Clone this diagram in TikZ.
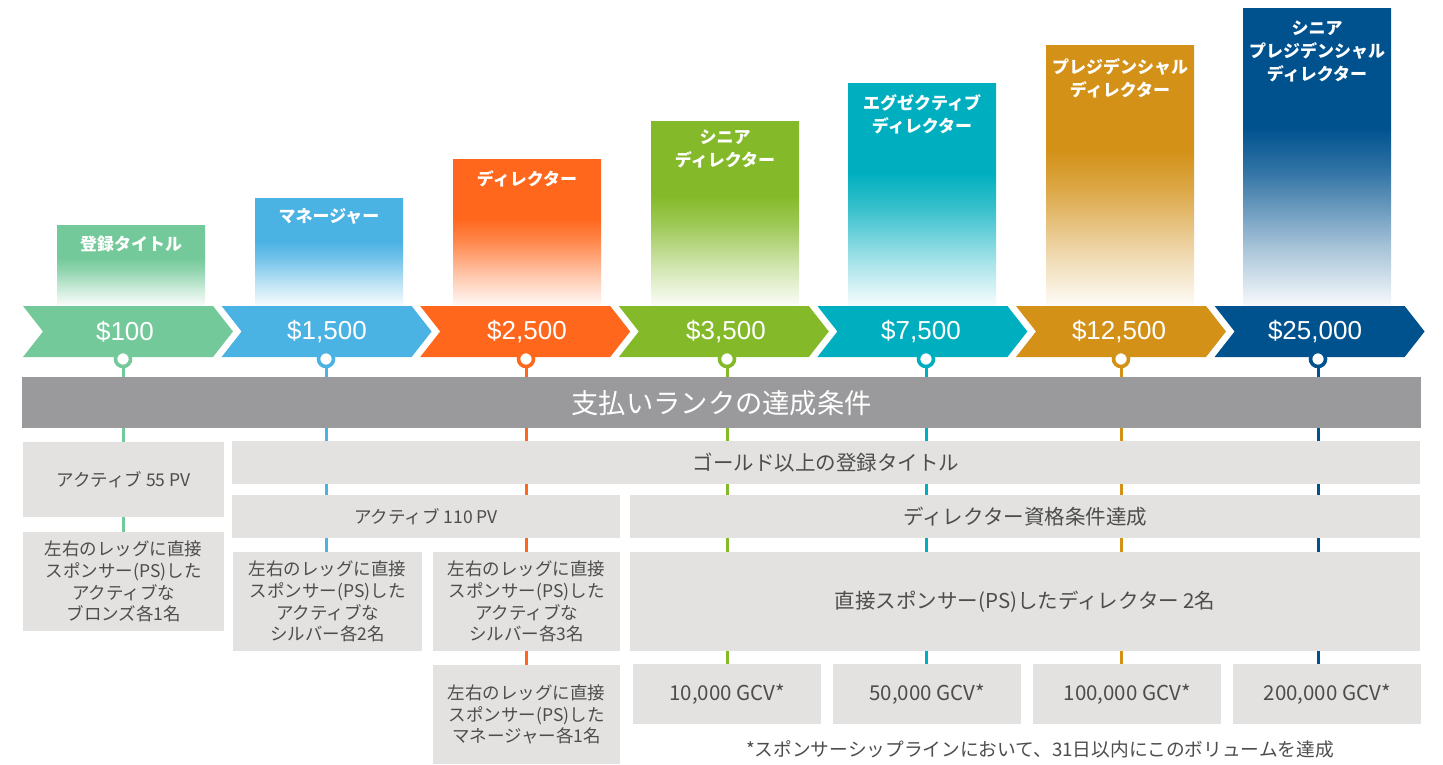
\documentclass[tikz,border=0pt]{standalone}
\usepackage{fontspec}
\newfontfamily\jp{Noto Sans CJK JP}
\newfontfamily\arl{Liberation Sans}
\definecolor{cA}{HTML}{73C999}
\definecolor{cB}{HTML}{4BB2E4}
\definecolor{cC}{HTML}{FF671C}
\definecolor{cD}{HTML}{84BA29}
\definecolor{cE}{HTML}{00AFBF}
\definecolor{cF}{HTML}{D39118}
\definecolor{cG}{HTML}{00528F}
\definecolor{bannergrey}{HTML}{9A9A9C}
\definecolor{boxgrey}{HTML}{E3E2E1}
\definecolor{boxtext}{HTML}{4D4D4D}
\newcommand{\mkbarshade}[1]{%
  \colorlet{#1a}{#1!3!white}%
  \colorlet{#1b}{#1!35!white}%
  \colorlet{#1c}{#1!80!white}%
  \pgfdeclareverticalshading{sh#1}{100bp}{color(0bp)=(#1a); color(25bp)=(#1a); color(35bp)=(#1b); color(47.5bp)=(#1c); color(55bp)=(#1); color(100bp)=(#1)}}
\mkbarshade{cA}\mkbarshade{cB}\mkbarshade{cC}\mkbarshade{cD}\mkbarshade{cE}\mkbarshade{cF}\mkbarshade{cG}
\begin{document}
\begin{tikzpicture}[x=1pt,y=-1pt,
  titletext/.style={anchor=north, text=white, align=center, inner sep=0pt,
    font=\jp\bfseries\fontsize{17}{23}\selectfont},
  dollartext/.style={text=white, inner sep=0pt, font=\arl\fontsize{26}{28}\selectfont},
  gbox/.style={anchor=north west, fill=boxgrey, inner sep=0pt, text=boxtext, align=center,
    font=\jp\fontsize{17.5}{21.7}\selectfont},
  bigtext/.style={font=\jp\fontsize{20.5}{24}\selectfont},
  colline/.style={line width=3pt},
  ringdot/.style={circle, draw, line width=3.6pt, fill=white, minimum size=15pt, inner sep=0pt}
]
\useasboundingbox (0,0) rectangle (1443,765);

% gradient rank bars
\foreach \i/\L/\T/\c in {1/57/225/cA, 2/255/198/cB, 3/453/160/cC, 4/651/122/cD, 5/848/84/cE, 6/1046/46/cF, 7/1243/9/cG}{
  \shade[shading=sh\c] (\L,\T) rectangle ++(148,306-\T);
}
\node[titletext] (t1) at (131,236) {登録タイトル};
\node[titletext] (t2) at (329,208) {マネージャー};
\node[titletext] (t3) at (527,170) {ディレクター};
\node[titletext] (t4) at (725,130) {シニア\\ディレクター};
\node[titletext] (t5) at (922,94) {エグゼクティブ\\ディレクター};
\node[titletext] (t6) at (1120,58) {プレジデンシャル\\ディレクター};
\node[titletext] (t7) at (1317,21) {シニア\\プレジデンシャル\\ディレクター};

% chevron band
\foreach \i/\c in {0/cA,1/cB,2/cC,3/cD,4/cE,5/cF,6/cG}{
  \fill[\c] ({23+198.6*\i},306) -- ++(190,0) -- ++(20,25.5) -- ++(-20,25.5) -- ++(-190,0) -- ++(20,-25.5) -- cycle;
}
\node[dollartext] (d1) at (125,331.5) {\$100};
\node[dollartext] (d2) at (327,331.5) {\$1,500};
\node[dollartext] (d3) at (527,331.5) {\$2,500};
\node[dollartext] (d4) at (726,331.5) {\$3,500};
\node[dollartext] (d5) at (921,331.5) {\$7,500};
\node[dollartext] (d6) at (1119,331.5) {\$12,500};
\node[dollartext] (d7) at (1315,331.5) {\$25,000};

% column lines
\coordinate (k1) at (123,359); \coordinate (e1) at (123,533);
\coordinate (k2) at (326,359); \coordinate (e2) at (326,553);
\coordinate (k3) at (526,359); \coordinate (e3) at (526,666);
\coordinate (k4) at (727,359); \coordinate (e4) at (727,665);
\coordinate (k5) at (926,359); \coordinate (e5) at (926,665);
\coordinate (k6) at (1121,359); \coordinate (e6) at (1121,665);
\coordinate (k7) at (1318,359); \coordinate (e7) at (1318,665);
\foreach \i/\c in {1/cA,2/cB,3/cC,4/cD,5/cE,6/cF,7/cG}{
  \draw[colline,\c] (k\i) -- (e\i);
}

% banner
\node[fill=bannergrey, inner sep=0pt, minimum width=1399pt, minimum height=51pt, anchor=north west,
  text=white, font=\jp\fontsize{27.3}{29}\selectfont] (banner) at (22,377) {支払いランクの達成条件};

% requirement boxes
\node[gbox, minimum width=201pt, minimum height=75pt] (b55) at (23,442) {アクティブ 55 PV};
\node[gbox, minimum width=201pt, minimum height=99pt] (bbr) at (23,532) {左右のレッグに直接\\スポンサー(PS)した\\アクティブな\\ブロンズ各1名};
\node[gbox, bigtext, minimum width=1188pt, minimum height=43pt] (bgold) at (232,441) {ゴールド以上の登録タイトル};
\node[gbox, minimum width=388pt, minimum height=43pt] (b110) at (232,495) {アクティブ 110 PV};
\node[gbox, minimum width=189pt, minimum height=99pt] (bs2) at (233,552) {左右のレッグに直接\\スポンサー(PS)した\\アクティブな\\シルバー各2名};
\node[gbox, minimum width=187pt, minimum height=99pt] (bs3) at (433,552) {左右のレッグに直接\\スポンサー(PS)した\\アクティブな\\シルバー各3名};
\node[gbox, bigtext, minimum width=790pt, minimum height=43pt] (bdq) at (630,495) {ディレクター資格条件達成};
\node[gbox, bigtext, minimum width=790pt, minimum height=99pt] (bps) at (630,552) {直接スポンサー(PS)したディレクター 2名};
\node[gbox, minimum width=187pt, minimum height=99pt] (bmg) at (433,665) {左右のレッグに直接\\スポンサー(PS)した\\マネージャー各1名};
\node[gbox, bigtext, minimum width=188pt, minimum height=60pt] (g1) at (633,664) {10,000 GCV*};
\node[gbox, bigtext, minimum width=188pt, minimum height=60pt] (g2) at (833,664) {50,000 GCV*};
\node[gbox, bigtext, minimum width=188pt, minimum height=60pt] (g3) at (1033,664) {100,000 GCV*};
\node[gbox, bigtext, minimum width=188pt, minimum height=60pt] (g4) at (1233,664) {200,000 GCV*};
\node[text=boxtext, inner sep=0pt, font=\jp\fontsize{18.7}{21}\selectfont] (foot) at (1040,749) {*スポンサーシップラインにおいて、31日以内にこのボリュームを達成};

% ring markers
\foreach \i/\c in {1/cA,2/cB,3/cC,4/cD,5/cE,6/cF,7/cG}{
  \node[ringdot, draw=\c] (c\i) at (k\i) {};
}
\end{tikzpicture}
\end{document}
